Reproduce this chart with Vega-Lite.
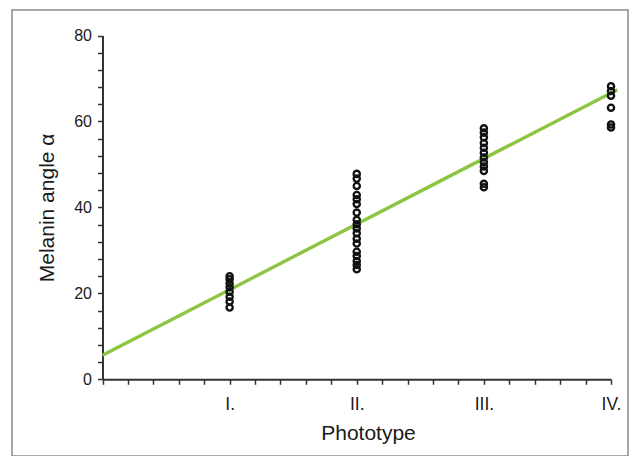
{
  "$schema": "https://vega.github.io/schema/vega-lite/v6.json",
  "autosize": {"type": "none"},
  "padding": {"left": 12, "top": 10, "right": 6, "bottom": 0},
  "width": 616,
  "height": 446,
  "background": "white",
  "config": {
    "view": {"stroke": "#8a8a8a", "strokeWidth": 1.5},
    "font": "Liberation Sans",
    "axis": {
      "grid": false,
      "domainColor": "#333333",
      "domainWidth": 2,
      "tickColor": "#333333",
      "tickWidth": 1.5,
      "tickSize": 5,
      "labelFont": "Liberation Sans",
      "labelFontSize": 16,
      "labelColor": "#1a1a1a",
      "titleFont": "Liberation Sans",
      "titleFontSize": 21,
      "titleFontWeight": "normal",
      "titleColor": "#1a1a1a"
    }
  },
  "datasets": {
    "points": [
      {"phototype": 1, "angle": 24.0},
      {"phototype": 1, "angle": 23.3},
      {"phototype": 1, "angle": 22.3},
      {"phototype": 1, "angle": 21.4},
      {"phototype": 1, "angle": 20.4},
      {"phototype": 1, "angle": 19.2},
      {"phototype": 1, "angle": 18.1},
      {"phototype": 1, "angle": 16.7},
      {"phototype": 2, "angle": 47.8},
      {"phototype": 2, "angle": 46.7},
      {"phototype": 2, "angle": 45.0},
      {"phototype": 2, "angle": 42.9},
      {"phototype": 2, "angle": 41.9},
      {"phototype": 2, "angle": 40.8},
      {"phototype": 2, "angle": 38.8},
      {"phototype": 2, "angle": 37.1},
      {"phototype": 2, "angle": 36.1},
      {"phototype": 2, "angle": 35.1},
      {"phototype": 2, "angle": 34.0},
      {"phototype": 2, "angle": 32.7},
      {"phototype": 2, "angle": 31.6},
      {"phototype": 2, "angle": 29.7},
      {"phototype": 2, "angle": 28.7},
      {"phototype": 2, "angle": 27.5},
      {"phototype": 2, "angle": 26.6},
      {"phototype": 2, "angle": 25.6},
      {"phototype": 3, "angle": 58.4},
      {"phototype": 3, "angle": 57.4},
      {"phototype": 3, "angle": 56.3},
      {"phototype": 3, "angle": 55.0},
      {"phototype": 3, "angle": 53.9},
      {"phototype": 3, "angle": 52.7},
      {"phototype": 3, "angle": 51.6},
      {"phototype": 3, "angle": 50.5},
      {"phototype": 3, "angle": 49.5},
      {"phototype": 3, "angle": 48.5},
      {"phototype": 3, "angle": 45.5},
      {"phototype": 3, "angle": 44.7},
      {"phototype": 4, "angle": 68.2},
      {"phototype": 4, "angle": 67.1},
      {"phototype": 4, "angle": 66.0},
      {"phototype": 4, "angle": 63.2},
      {"phototype": 4, "angle": 59.3},
      {"phototype": 4, "angle": 58.6}
    ],
    "fit": [
      {"phototype": 0.0, "angle": 5.6},
      {"phototype": 4.05, "angle": 67.4}
    ]
  },
  "layer": [
    {
      "data": {"name": "fit"},
      "mark": {"type": "line", "color": "#8ac640", "strokeWidth": 3.4},
      "encoding": {
        "x": {
          "field": "phototype",
          "type": "quantitative",
          "scale": {"domain": [0, 4], "range": [90.5, 599], "nice": false, "zero": false},
          "axis": {
            "title": "Phototype",
            "orient": "bottom",
            "offset": -76.7,
            "values": [0, 0.2, 0.4, 0.6, 0.8, 1, 1.2, 1.4, 1.6, 1.8, 2, 2.2, 2.4, 2.6, 2.8, 3, 3.2, 3.4, 3.6, 3.8, 4],
            "tickCount": 100,
            "labelExpr": "datum.value == 1 ? 'I.' : datum.value == 2 ? 'II.' : datum.value == 3 ? 'III.' : datum.value == 4 ? 'IV.' : ''",
            "labelFontSize": 17.5,
            "labelPadding": 11,
            "labelFlush": false,
            "labelOverlap": false,
            "titlePadding": 10,
            "titleX": 356
          }
        },
        "y": {
          "field": "angle",
          "type": "quantitative",
          "scale": {"domain": [0, 80], "range": [369.3, 25.5], "nice": false, "zero": false},
          "axis": {
            "title": "Melanin angle α",
            "orient": "left",
            "offset": -90.5,
            "values": [0, 4, 8, 12, 16, 20, 24, 28, 32, 36, 40, 44, 48, 52, 56, 60, 64, 68, 72, 76, 80],
            "tickCount": 100,
            "labelExpr": "datum.value % 20 == 0 ? datum.label : ''",
            "labelPadding": 6,
            "labelFlush": false,
            "labelOverlap": false,
            "titlePadding": 16
          }
        }
      }
    },
    {
      "data": {"name": "points"},
      "mark": {"type": "point", "filled": false, "stroke": "#111111", "strokeWidth": 2.4, "size": 38, "opacity": 1},
      "encoding": {
        "x": {"field": "phototype", "type": "quantitative"},
        "y": {"field": "angle", "type": "quantitative"}
      }
    }
  ]
}
